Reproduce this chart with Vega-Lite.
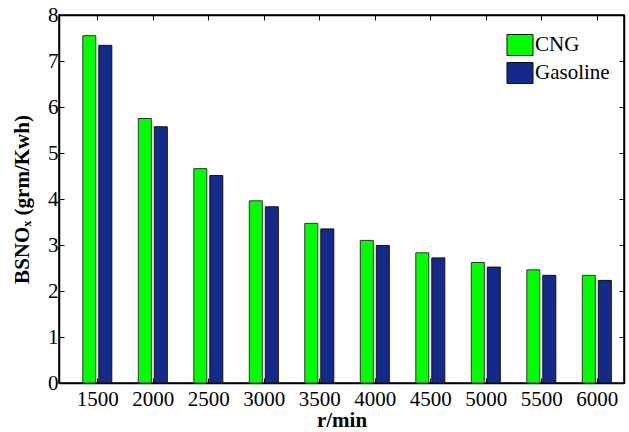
{
  "$schema": "https://vega.github.io/schema/vega-lite/v6.json",
  "width": 565,
  "height": 368,
  "autosize": {"type": "none"},
  "padding": {"left": 59, "top": 15, "right": 5, "bottom": 49},
  "background": "white",
  "config": {
    "font": "Liberation Serif",
    "view": {"stroke": "black", "strokeWidth": 1.5},
    "axis": {
      "grid": false,
      "domainColor": "black",
      "domainWidth": 1.5,
      "tickColor": "black",
      "tickWidth": 1,
      "tickSize": -5,
      "labelFont": "Liberation Serif",
      "labelFontSize": 21,
      "labelColor": "black",
      "titleFont": "Liberation Serif",
      "titleFontSize": 21,
      "titleFontWeight": "bold",
      "titleColor": "black"
    }
  },
  "data": {
    "values": [
      {"rpm": 1500, "fuel": "CNG", "value": 7.55},
      {"rpm": 1500, "fuel": "Gasoline", "value": 7.34},
      {"rpm": 2000, "fuel": "CNG", "value": 5.75},
      {"rpm": 2000, "fuel": "Gasoline", "value": 5.57},
      {"rpm": 2500, "fuel": "CNG", "value": 4.66},
      {"rpm": 2500, "fuel": "Gasoline", "value": 4.51},
      {"rpm": 3000, "fuel": "CNG", "value": 3.96},
      {"rpm": 3000, "fuel": "Gasoline", "value": 3.83},
      {"rpm": 3500, "fuel": "CNG", "value": 3.47},
      {"rpm": 3500, "fuel": "Gasoline", "value": 3.35},
      {"rpm": 4000, "fuel": "CNG", "value": 3.10},
      {"rpm": 4000, "fuel": "Gasoline", "value": 2.99},
      {"rpm": 4500, "fuel": "CNG", "value": 2.83},
      {"rpm": 4500, "fuel": "Gasoline", "value": 2.72},
      {"rpm": 5000, "fuel": "CNG", "value": 2.62},
      {"rpm": 5000, "fuel": "Gasoline", "value": 2.52},
      {"rpm": 5500, "fuel": "CNG", "value": 2.46},
      {"rpm": 5500, "fuel": "Gasoline", "value": 2.34},
      {"rpm": 6000, "fuel": "CNG", "value": 2.34},
      {"rpm": 6000, "fuel": "Gasoline", "value": 2.23}
    ]
  },
  "layer": [
    {
      "transform": [{"filter": "datum.fuel === 'CNG'"}],
      "mark": {"type": "bar", "width": 13, "xOffset": -8, "stroke": "#333333", "strokeWidth": 1},
      "encoding": {
        "x": {
          "field": "rpm",
          "type": "quantitative",
          "scale": {"domain": [1200, 6200], "nice": false, "zero": false},
          "axis": {"orient": "bottom", "values": [1500, 2000, 2500, 3000, 3500, 4000, 4500, 5000, 5500, 6000], "format": "d", "title": "r/min", "labelPadding": 10, "titlePadding": 0}
        },
        "y": {
          "field": "value",
          "type": "quantitative",
          "scale": {"domain": [0, 8], "nice": false},
          "axis": {"orient": "left", "values": [0, 1, 2, 3, 4, 5, 6, 7, 8], "title": "BSNOₓ  (grm/Kwh)", "labelPadding": 6, "titlePadding": 15}
        },
        "color": {
          "field": "fuel",
          "type": "nominal",
          "scale": {"domain": ["CNG", "Gasoline"], "range": ["#00ff00", "#142a8a"]},
          "legend": {
            "orient": "none",
            "legendX": 450,
            "legendY": 19,
            "title": null,
            "symbolType": "M-1.24,-1H1.24V1H-1.24Z",
            "symbolSize": 441,
            "symbolStrokeColor": "black",
            "symbolStrokeWidth": 1,
            "symbolOpacity": 1,
            "labelFont": "Liberation Serif",
            "labelFontSize": 21,
            "labelColor": "black",
            "labelOffset": 4,
            "rowPadding": 2
          }
        }
      }
    },
    {
      "transform": [{"filter": "datum.fuel === 'Gasoline'"}],
      "mark": {"type": "bar", "width": 13, "xOffset": 8, "stroke": "#111111", "strokeWidth": 1},
      "encoding": {
        "x": {
          "field": "rpm",
          "type": "quantitative",
          "axis": {"orient": "top", "values": [1500, 2000, 2500, 3000, 3500, 4000, 4500, 5000, 5500, 6000], "labels": false, "title": null}
        },
        "y": {
          "field": "value",
          "type": "quantitative",
          "axis": {"orient": "right", "values": [0, 1, 2, 3, 4, 5, 6, 7, 8], "labels": false, "title": null}
        },
        "color": {"field": "fuel", "type": "nominal"}
      }
    }
  ],
  "resolve": {"axis": {"x": "independent", "y": "independent"}}
}
